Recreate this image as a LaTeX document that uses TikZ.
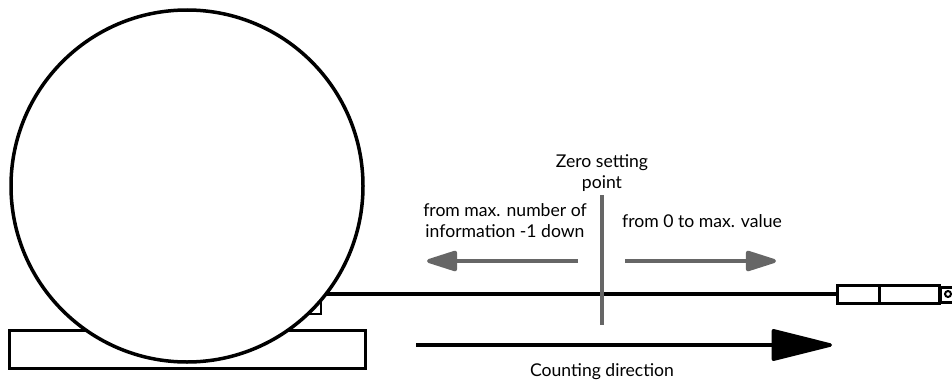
\documentclass[tikz,border=0pt]{standalone}
\usepackage{fontspec}
\setmainfont{Lato}
\usetikzlibrary{arrows.meta}
\tikzset{
  part/.style={shape=rectangle,draw=black,line width=3pt,fill=white,inner sep=0pt,outer sep=0pt},
  wire/.style={draw=black,line width=3.5pt},
  greyline/.style={draw=black!60,line width=4pt},
  greyarrow/.style={greyline,-{Triangle[length=35pt,width=21pt,round]}},
  countarrow/.style={wire,-{Triangle[length=66pt,width=32pt,round]}},
  lbl/.style={align=center,inner sep=0pt,font=\fontsize{17.6}{21}\selectfont}
}
\newcommand{\partbox}[5]{\node[part,minimum width=#4 pt,minimum height=#5 pt] (#1) at (#2,#3) {};}
\newcommand{\lablnote}[4]{\node[lbl] (#1) at (#2,#3) {#4};}
\begin{document}
\begin{tikzpicture}[x=1pt,y=-1pt]
        \useasboundingbox (0,0) rectangle (952,380);

        % drum and base
        \partbox{base}{187.5}{349}{356}{38}
        \draw[line width=2.5pt] (321,298) -- (321,314) -- (305,314);
        \node[shape=circle,draw=black,line width=3.5pt,fill=white,minimum size=352pt,inner sep=0pt,outer sep=0pt] (wheel) at (187,186) {};

        % encoder
        \partbox{sensorL}{858}{294}{42}{18}
        \partbox{sensorR}{909}{294}{60}{18}
        \partbox{tip}{947}{294.5}{14}{15}
        \node[shape=circle,draw=black,line width=2pt,fill=white,minimum size=6pt,inner sep=0pt] (eye) at (948,294) {};
        \coordinate (wirestart) at (326,294);
        \draw[wire] (wirestart) -- (sensorL.west);

        % zero point
        \coordinate (zerotop) at (602,195);
        \coordinate (zerobot) at (602,325);
        \draw[greyline] (zerotop) -- (zerobot);
        \coordinate (leftstart) at (578,261);
        \coordinate (leftend) at (427,261);
        \draw[greyarrow] (leftstart) -- (leftend);
        \coordinate (rightstart) at (625,261);
        \coordinate (rightend) at (776,261);
        \draw[greyarrow] (rightstart) -- (rightend);

        % counting
        \coordinate (countstart) at (416,345);
        \coordinate (countend) at (832,345);
        \draw[countarrow] (countstart) -- (countend);

        % labels
        \lablnote{zerolabel}{602}{173.5}{Zero setting\\point}
        \lablnote{downlabel}{505}{221}{from max. number of\\information -1 down}
        \lablnote{uplabel}{702}{221}{from 0 to max. value}
        \lablnote{countlabel}{602}{371.5}{Counting direction}
\end{tikzpicture}
\end{document}
